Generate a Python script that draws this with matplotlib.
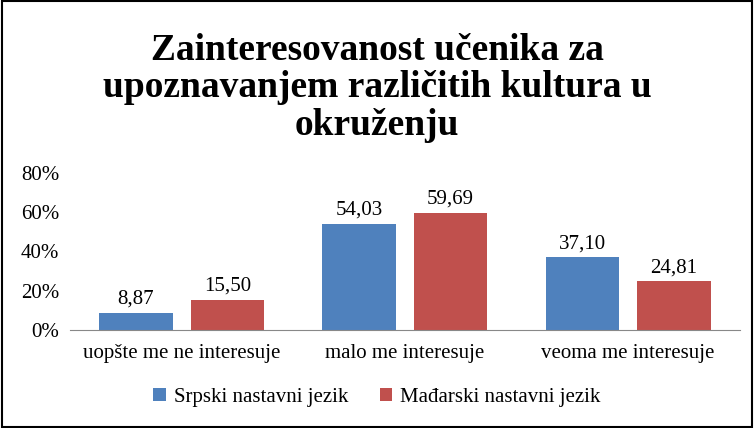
import matplotlib
matplotlib.use("Agg")
import matplotlib.pyplot as plt
import numpy as np
from matplotlib.patches import Rectangle

categories = ["uopšte me ne interesuje", "malo me interesuje", "veoma me interesuje"]
series_names = ["Srpski nastavni jezik", "Mađarski nastavni jezik"]
srpski = [8.87, 54.03, 37.10]
madjarski = [15.50, 59.69, 24.81]
colors = ["#4F81BD", "#C0504D"]

plt.rcParams['font.family'] = ['Liberation Serif', 'DejaVu Serif']
fig = plt.figure(figsize=(7.54, 4.28), dpi=100)
fig.patches.append(Rectangle((0.002, 0.002), 0.996, 0.996, transform=fig.transFigure,
                             fill=False, edgecolor='black', linewidth=1.5))
ax = fig.add_axes([0.093, 0.229, 0.888, 0.367])
x = np.arange(len(categories))
w = 0.33
for i, (vals, name) in enumerate(zip([srpski, madjarski], series_names)):
    pos = x + (i - 0.5) * (w + 0.08)
    bars = ax.bar(pos, np.array(vals) / 100, w, color=colors[i], label=name)
    for b, v in zip(bars, vals):
        ax.text(b.get_x() + b.get_width() / 2, v / 100 + 0.02, f"{v:.2f}".replace('.', ','),
                ha='center', va='bottom', fontsize=15)
ax.set_xlim(-0.5, 2.5)
ax.set_ylim(0, 0.8)
ax.set_yticks([0, 0.2, 0.4, 0.6, 0.8])
ax.set_yticklabels(["0%", "20%", "40%", "60%", "80%"], fontsize=15)
ax.set_xticks(x)
ax.set_xticklabels(categories, fontsize=15)
ax.tick_params(axis='x', length=0, pad=10)
ax.tick_params(axis='y', length=0, pad=8)
for s in ['top', 'right', 'left']:
    ax.spines[s].set_visible(False)
ax.spines['bottom'].set_color('#888888')
fig.text(0.5, 0.795, "Zainteresovanost učenika za\nupoznavanjem različitih kultura u\nokruženju",
         ha='center', va='center', fontsize=27, fontweight='bold', linespacing=1.1)
fig.legend(loc='center', bbox_to_anchor=(0.5, 0.072), ncol=2, frameon=False,
           fontsize=15, handlelength=0.6, handleheight=0.6, columnspacing=1.5, handletextpad=0.4)
fig.savefig("out.png", dpi=100)
